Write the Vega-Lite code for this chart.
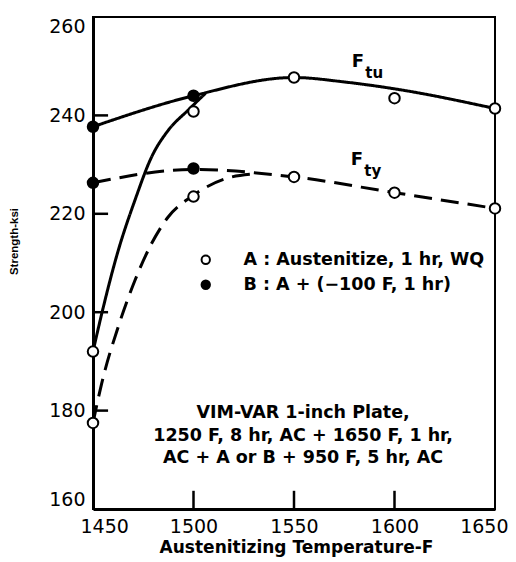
{
  "$schema": "https://vega.github.io/schema/vega-lite/v6.json",
  "width": 402,
  "height": 492,
  "autosize": {"type": "none"},
  "padding": {"left": 93, "top": 17, "right": 21, "bottom": 53},
  "background": "white",
  "config": {
    "view": {"stroke": "black", "strokeWidth": 2},
    "axis": {
      "domainColor": "black",
      "domainWidth": 3,
      "ticks": false,
      "grid": false,
      "labelFont": "DejaVu Sans",
      "labelFontSize": 19,
      "labelColor": "black",
      "format": "d",
      "titleFont": "DejaVu Sans",
      "titleFontWeight": "bold",
      "titleColor": "black"
    },
    "legend": {
      "labelFont": "DejaVu Sans",
      "labelFontWeight": "bold",
      "labelFontSize": 17.5,
      "labelColor": "black",
      "labelLimit": 400
    }
  },
  "datasets": {
    "curves": [
      {"curve": "Ftu main", "property": "Ftu", "temp": 1450, "strength": 237.7},
      {"curve": "Ftu main", "property": "Ftu", "temp": 1500, "strength": 244.0},
      {"curve": "Ftu main", "property": "Ftu", "temp": 1550, "strength": 247.7},
      {"curve": "Ftu main", "property": "Ftu", "temp": 1575, "strength": 246.8},
      {"curve": "Ftu main", "property": "Ftu", "temp": 1600, "strength": 245.4},
      {"curve": "Ftu main", "property": "Ftu", "temp": 1650, "strength": 241.4},
      {"curve": "Ftu A rise", "property": "Ftu", "temp": 1450, "strength": 192.0},
      {"curve": "Ftu A rise", "property": "Ftu", "temp": 1454, "strength": 199.1},
      {"curve": "Ftu A rise", "property": "Ftu", "temp": 1462.6, "strength": 212.6},
      {"curve": "Ftu A rise", "property": "Ftu", "temp": 1470.9, "strength": 222.8},
      {"curve": "Ftu A rise", "property": "Ftu", "temp": 1479.2, "strength": 231.6},
      {"curve": "Ftu A rise", "property": "Ftu", "temp": 1487.5, "strength": 237.0},
      {"curve": "Ftu A rise", "property": "Ftu", "temp": 1497.4, "strength": 241.1},
      {"curve": "Ftu A rise", "property": "Ftu", "temp": 1506, "strength": 244.5},
      {"curve": "Fty main", "property": "Fty", "temp": 1450, "strength": 226.3},
      {"curve": "Fty main", "property": "Fty", "temp": 1500, "strength": 229.0},
      {"curve": "Fty main", "property": "Fty", "temp": 1550, "strength": 227.5},
      {"curve": "Fty main", "property": "Fty", "temp": 1600, "strength": 224.3},
      {"curve": "Fty main", "property": "Fty", "temp": 1650, "strength": 221.1},
      {"curve": "Fty A rise", "property": "Fty", "temp": 1450, "strength": 177.5},
      {"curve": "Fty A rise", "property": "Fty", "temp": 1454.3, "strength": 185.5},
      {"curve": "Fty A rise", "property": "Fty", "temp": 1462.6, "strength": 197.1},
      {"curve": "Fty A rise", "property": "Fty", "temp": 1470.9, "strength": 206.5},
      {"curve": "Fty A rise", "property": "Fty", "temp": 1479.2, "strength": 214.0},
      {"curve": "Fty A rise", "property": "Fty", "temp": 1487.5, "strength": 219.4},
      {"curve": "Fty A rise", "property": "Fty", "temp": 1499, "strength": 223.5},
      {"curve": "Fty A rise", "property": "Fty", "temp": 1516.5, "strength": 227.2},
      {"curve": "Fty A rise", "property": "Fty", "temp": 1530, "strength": 228.1}
    ],
    "tests": [
      {"property": "Ftu", "treatment": "A : Austenitize, 1 hr, WQ", "temp": 1450, "strength": 192.0},
      {"property": "Ftu", "treatment": "A : Austenitize, 1 hr, WQ", "temp": 1500, "strength": 240.8},
      {"property": "Ftu", "treatment": "A : Austenitize, 1 hr, WQ", "temp": 1550, "strength": 247.7},
      {"property": "Ftu", "treatment": "A : Austenitize, 1 hr, WQ", "temp": 1600, "strength": 243.5},
      {"property": "Ftu", "treatment": "A : Austenitize, 1 hr, WQ", "temp": 1650, "strength": 241.4},
      {"property": "Ftu", "treatment": "B : A + (−100 F, 1 hr)", "temp": 1450, "strength": 237.7},
      {"property": "Ftu", "treatment": "B : A + (−100 F, 1 hr)", "temp": 1500, "strength": 244.0},
      {"property": "Fty", "treatment": "A : Austenitize, 1 hr, WQ", "temp": 1450, "strength": 177.5},
      {"property": "Fty", "treatment": "A : Austenitize, 1 hr, WQ", "temp": 1500, "strength": 223.5},
      {"property": "Fty", "treatment": "A : Austenitize, 1 hr, WQ", "temp": 1550, "strength": 227.5},
      {"property": "Fty", "treatment": "A : Austenitize, 1 hr, WQ", "temp": 1600, "strength": 224.3},
      {"property": "Fty", "treatment": "A : Austenitize, 1 hr, WQ", "temp": 1650, "strength": 221.1},
      {"property": "Fty", "treatment": "B : A + (−100 F, 1 hr)", "temp": 1450, "strength": 226.3},
      {"property": "Fty", "treatment": "B : A + (−100 F, 1 hr)", "temp": 1500, "strength": 229.2}
    ],
    "yTicks": [{"tick": 180}, {"tick": 200}, {"tick": 220}, {"tick": 240}],
    "xTicks": [{"tick": 1500}, {"tick": 1550}, {"tick": 1600}]
  },
  "layer": [
    {
      "data": {"name": "yTicks"},
      "mark": {"type": "rule", "color": "black", "strokeWidth": 2.5},
      "encoding": {
        "y": {
          "field": "tick", "type": "quantitative",
          "scale": {"domain": [160, 260], "nice": false, "zero": false},
          "axis": {
            "values": [160, 180, 200, 220, 240, 260],
            "labelPadding": 8,
            "labelFlush": true,
            "title": "Strength-ksi",
            "titleFont": "Liberation Sans",
            "titleFontSize": 11.5,
            "titleX": -79,
            "titleY": 224,
            "titleAlign": "center",
            "titleBaseline": "middle"
          }
        },
        "x": {
          "datum": 1450, "type": "quantitative",
          "scale": {"domain": [1450, 1650], "nice": false, "zero": false},
          "axis": {
            "values": [1450, 1500, 1550, 1600, 1650],
            "labelPadding": 8,
            "labelFlush": true,
            "labelFlushOffset": 13,
            "title": "Austenitizing Temperature-F",
            "titleFontSize": 17,
            "titleX": 203,
            "titleY": 38,
            "titleBaseline": "middle"
          }
        },
        "x2": {"datum": 1457.5}
      }
    },
    {
      "data": {"name": "xTicks"},
      "mark": {"type": "rule", "color": "black", "strokeWidth": 2.5},
      "encoding": {
        "x": {"field": "tick", "type": "quantitative"},
        "y": {"datum": 160, "type": "quantitative"},
        "y2": {"datum": 163.7}
      }
    },
    {
      "data": {"name": "curves"},
      "mark": {"type": "line", "interpolate": "monotone", "color": "black", "strokeWidth": 3},
      "encoding": {
        "x": {"field": "temp", "type": "quantitative"},
        "y": {"field": "strength", "type": "quantitative"},
        "detail": {"field": "curve"},
        "strokeDash": {
          "field": "property", "type": "nominal",
          "scale": {"domain": ["Ftu", "Fty"], "range": [[1, 0], [18, 9]]},
          "legend": null
        }
      }
    },
    {
      "data": {"name": "tests"},
      "mark": {"type": "point", "shape": "circle", "filled": true, "size": 110, "stroke": "black", "strokeWidth": 2, "opacity": 1},
      "encoding": {
        "x": {"field": "temp", "type": "quantitative"},
        "y": {"field": "strength", "type": "quantitative"},
        "fill": {
          "field": "treatment", "type": "nominal",
          "scale": {"domain": ["A : Austenitize, 1 hr, WQ", "B : A + (−100 F, 1 hr)"], "range": ["white", "black"]},
          "legend": {
            "orient": "none",
            "legendX": 104,
            "legendY": 234,
            "title": null,
            "padding": 0,
            "symbolType": "circle",
            "symbolSize": 70,
            "symbolStrokeColor": "black",
            "symbolStrokeWidth": 2,
            "labelOffset": 29,
            "rowPadding": 6
          }
        }
      }
    },
    {
      "data": {"values": [{}]},
      "mark": {"type": "text", "text": "F", "font": "DejaVu Sans", "fontWeight": "bold", "fontSize": 18, "align": "center", "baseline": "middle", "color": "black"},
      "encoding": {"x": {"datum": 1581.8, "type": "quantitative"}, "y": {"datum": 250.9, "type": "quantitative"}}
    },
    {
      "data": {"values": [{}]},
      "mark": {"type": "text", "text": "tu", "font": "DejaVu Sans", "fontWeight": "bold", "fontSize": 15, "align": "left", "baseline": "middle", "color": "black"},
      "encoding": {"x": {"datum": 1585.5, "type": "quantitative"}, "y": {"datum": 248.6, "type": "quantitative"}}
    },
    {
      "data": {"values": [{}]},
      "mark": {"type": "text", "text": "F", "font": "DejaVu Sans", "fontWeight": "bold", "fontSize": 18, "align": "center", "baseline": "middle", "color": "black"},
      "encoding": {"x": {"datum": 1581.3, "type": "quantitative"}, "y": {"datum": 230.9, "type": "quantitative"}}
    },
    {
      "data": {"values": [{}]},
      "mark": {"type": "text", "text": "ty", "font": "DejaVu Sans", "fontWeight": "bold", "fontSize": 15, "align": "left", "baseline": "middle", "color": "black"},
      "encoding": {"x": {"datum": 1585, "type": "quantitative"}, "y": {"datum": 228.7, "type": "quantitative"}}
    },
    {
      "data": {"values": [{}]},
      "mark": {
        "type": "text",
        "text": ["VIM-VAR 1-inch Plate,", "1250 F, 8 hr, AC + 1650 F, 1 hr,", "AC + A or B + 950 F, 5 hr, AC"],
        "font": "DejaVu Sans", "fontWeight": "bold", "fontSize": 17.5, "lineHeight": 22.5,
        "align": "center", "baseline": "middle", "color": "black"
      },
      "encoding": {"x": {"datum": 1554.5, "type": "quantitative"}, "y": {"datum": 179.5, "type": "quantitative"}}
    }
  ]
}
